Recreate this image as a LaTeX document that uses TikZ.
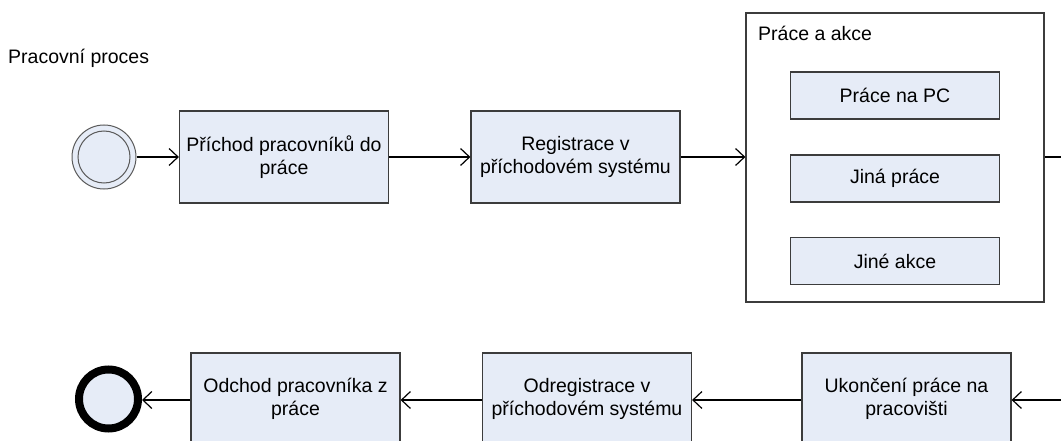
\documentclass[tikz,border=0pt]{standalone}
\usepackage{fontspec}
\setmainfont{Liberation Sans}
\usetikzlibrary{arrows.meta}
\definecolor{actfill}{RGB}{230,236,247}
\definecolor{actline}{RGB}{60,60,60}
\definecolor{ringline}{RGB}{90,90,90}
\tikzset{
  txt/.style={font=\fontsize{19.5}{23}\selectfont},
  act/.style={txt, draw=actline, fill=actfill, line width=1.2pt, align=center,
    inner sep=0pt, minimum width=209pt, minimum height=92pt},
  subact/.style={act, minimum height=47pt},
  group/.style={draw=actline, line width=1.2pt, inner sep=0pt,
    minimum width=298pt, minimum height=289pt},
  flow/.style={draw=black, line width=1.2pt, -{Straight Barb[length=9pt,width=17pt,line width=1.2pt]}},
}
\begin{document}
\begin{tikzpicture}[x=1pt,y=-1pt]
\useasboundingbox (0,0) rectangle (1061,441);
\clip (0,0) rectangle (1061,441);

% process title
\node[txt, anchor=base west, inner sep=0pt] (title) at (8,64) {Pracovní proces};

% start event
\node[circle, draw=ringline, fill=actfill, line width=1pt, minimum size=64pt, inner sep=0pt] (start) at (104,157) {};
\draw[ringline, line width=1pt] (start.center) circle[radius=26pt];

% top row
\node[act] (arrive) at (284,157) {Příchod pracovníků do\\práce};
\node[act] (reg) at (575.5,157) {Registrace v\\příchodovém systému};

% work group
\node[group] (work) at (895,157.5) {};
\node[txt, anchor=base west, inner sep=0pt] (worklbl) at (758,41) {Práce a akce};
\node[subact] (pc) at (895,95.5) {Práce na PC};
\node[subact] (other) at (895,178.5) {Jiná práce};
\node[subact] (acts) at (895,261) {Jiné akce};

% bottom row
\node[act] (finish) at (906.5,399) {Ukončení práce na\\pracovišti};
\node[act] (unreg) at (587,399) {Odregistrace v\\příchodovém systému};
\node[act] (leave) at (295.5,399) {Odchod pracovníka z\\práce};

% end event
\node[circle, draw=black, fill=actfill, line width=8pt, minimum size=59pt, inner sep=0pt] (stop) at (108.5,399) {};

% connectors
\coordinate (outR) at (1061,157);
\coordinate (inR) at (1061,400);
\draw[flow] (start) -- (arrive);
\draw[flow] (arrive) -- (reg);
\draw[flow] (reg) -- (work.west |- reg);
\draw[draw=black, line width=1.2pt] (work.east |- outR) -- (outR);
\draw[flow] (inR) -- (finish.east |- inR);
\draw[flow] (finish.west |- inR) -- (unreg.east |- inR);
\draw[flow] (unreg.west |- inR) -- (leave.east |- inR);
\draw[flow] (leave.west |- inR) -- (stop.east |- inR);
\end{tikzpicture}
\end{document}
